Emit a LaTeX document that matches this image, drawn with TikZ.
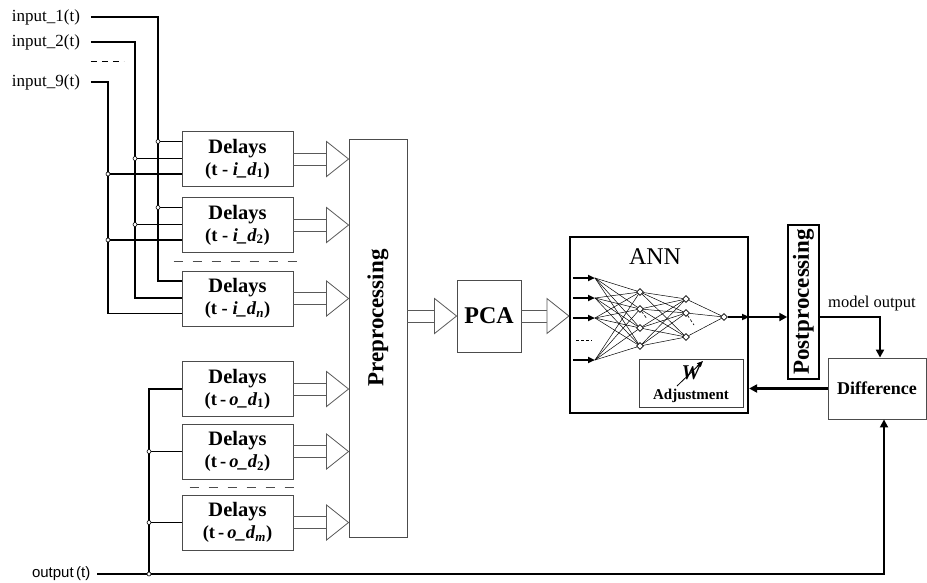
\documentclass[tikz,border=0pt]{standalone}
\usepackage{fontspec}
\setmainfont{Liberation Serif}
\setsansfont{Liberation Sans}
\usetikzlibrary{positioning, arrows.meta, shapes.geometric, calc}

% two-line bus with an open triangle at its tip
\newcommand{\busarrow}[2]{%
  \coordinate (bs) at (#1);
  \coordinate (bt) at (#2);
  \draw[busline] ([yshift=6pt]bs) -- ([xshift=-22pt,yshift=6pt]bt);
  \draw[busline] ([yshift=-6pt]bs) -- ([xshift=-22pt,yshift=-6pt]bt);
  \draw[busline, fill=white] (bt) -- ([xshift=-22pt,yshift=17.5pt]bt)
    -- ([xshift=-22pt,yshift=-17.5pt]bt) -- cycle;
}
\newcommand{\dl}{{\fontsize{20.5}{22}\selectfont Delays}}

\begin{document}
\begin{tikzpicture}[
        x=1pt, y=-1pt,
        wire/.style={line width=1.8pt},
        busline/.style={draw=black!65, line width=0.8pt},
        junction/.style={circle, draw, fill=white, line width=0.6pt,
            inner sep=0pt, minimum size=4pt},
        delaybox/.style={
            draw=black!70,
            line width=0.9pt,
            minimum width=111pt,
            minimum height=55pt,
            inner sep=0pt,
            align=center,
            font=\bfseries\fontsize{18.5}{22}\selectfont
        },
        bigbox/.style={draw=black!70, line width=0.9pt, inner sep=0pt},
        inlabel/.style={anchor=west, inner sep=0pt, outer xsep=11pt,
            font=\fontsize{17}{17}\selectfont},
        neuron/.style={diamond, draw, fill=white, line width=0.6pt,
            inner sep=0pt, minimum size=7pt},
        synapse/.style={line width=0.5pt},
        netdash/.style={line width=0.6pt, dash pattern=on 3pt off 2pt},
        netin/.style={line width=2pt, -{Triangle[length=7pt,width=6pt]}},
        bigarrow/.style={line width=2.5pt, -{Triangle[length=8pt,width=8pt]}},
        sepdash/.style={draw=black!70, line width=0.9pt, dash pattern=on 9pt off 10pt}
    ]
        \useasboundingbox (0,0) rectangle (927,582);

        % input signals
        \node[inlabel] (in1) at (1,17) {input\_1(t)};
        \node[inlabel] (in2) at (1,42) {input\_2(t)};
        \node[inlabel] (in9) at (1,82) {input\_9(t)};
        \draw[line width=0.9pt, dash pattern=on 6pt off 5pt]
            ([yshift=-19pt]in2.east) -- ++(33,0);

        \node[inlabel, font=\sffamily\fontsize{15}{15}\selectfont, outer xsep=7pt]
            (outp) at (25,574) {output\,(t)};

        % delay boxes
        \node[delaybox] (di1) at (237.5,159) {\dl\\(t - \textit{i\_d}\textsubscript{1})};
        \node[delaybox] (di2) at (237.5,225) {\dl\\(t - \textit{i\_d}\textsubscript{2})};
        \node[delaybox] (din) at (237.5,298.5) {\dl\\(t - \textit{i\_d}\textsubscript{\itshape n})};
        \node[delaybox] (do1) at (237.5,389) {\dl\\(t\,-\,\textit{o\_d}\textsubscript{1})};
        \node[delaybox] (do2) at (237.5,451.5) {\dl\\(t\,-\,\textit{o\_d}\textsubscript{2})};
        \node[delaybox] (dom) at (237.5,522.5) {\dl\\(t\,-\,\textit{o\_d}\textsubscript{\itshape m})};

        \draw[sepdash] ($(di2.south)!0.5!(din.north)$) ++(-64,0) -- ++(127,0);
        \draw[sepdash] ($(do2.south)!0.5!(dom.north)$) ++(-48,0) -- ++(108,0);

        % wiring of the inputs
        \coordinate (c1) at (158,0);
        \coordinate (c2) at (135,0);
        \coordinate (c9) at (108,0);
        \coordinate (c0) at (149,0);
        \foreach \b in {di1,di2,din} {
            \coordinate (\b-a) at ([yshift=17.5pt]\b.west);
            \coordinate (\b-b) at ([yshift=0.5pt]\b.west);
            \coordinate (\b-c) at ([yshift=-15pt]\b.west);
        }
        \draw[wire] (in1.east) -| (din-a -| c1) -- (din-a);
        \draw[wire] (in2.east) -| (din-b -| c2) -- (din-b);
        \draw[wire] (in9.east) -| (din-c -| c9) -- (din-c);
        \foreach \b in {di1,di2} {
            \draw[wire] (\b-a -| c1) -- (\b-a);
            \draw[wire] (\b-b -| c2) -- (\b-b);
            \draw[wire] (\b-c -| c9) -- (\b-c);
            \node[junction] (\b-ja) at (\b-a -| c1) {};
            \node[junction] (\b-jb) at (\b-b -| c2) {};
            \node[junction] (\b-jc) at (\b-c -| c9) {};
        }

        % wiring of the measured output
        \draw[wire] (outp.east) -| (do1.west -| c0) -- (do1.west);
        \draw[wire] (do2.west -| c0) -- (do2.west);
        \draw[wire] (dom.west -| c0) -- (dom.west);

        % processing chain
        \node[bigbox, minimum width=58pt, minimum height=398pt] (pre) at (378,338) {};
        \node[rotate=90, font=\bfseries\fontsize{23}{23}\selectfont] (prelbl)
            at (378,318) {Preprocessing};
        \node[bigbox, minimum width=64pt, minimum height=72pt,
            font=\bfseries\fontsize{24}{24}\selectfont] (pca) at (489,316) {PCA};
        \node[draw, line width=2.2pt, minimum width=178pt, minimum height=176pt,
            inner sep=0pt] (ann) at (659,325) {};
        \node[font=\fontsize{24}{24}\selectfont] (annlbl) at (655,257) {ANN};

        \foreach \b in {di1,di2,din,do1,do2,dom} {
            \busarrow{\b.east}{\b.east -| pre.west}
        }
        \busarrow{pca.west -| pre.east}{pca.west}
        \busarrow{pca.east}{pca.east -| ann.west}

        % network inside the ANN
        \foreach \n/\y in {1/278, 2/298, 3/318, 4/360}
            \coordinate (x\n) at (595,\y);
        \foreach \n/\y in {1/292, 2/309, 3/328, 4/346}
            \node[neuron] (h\n) at (640,\y) {};
        \foreach \n/\y in {1/299, 2/313, 3/337}
            \node[neuron] (g\n) at (686,\y) {};
        \node[neuron] (o) at (724,317) {};
        \foreach \i in {1,...,4}
            \foreach \j in {1,...,4}
                \draw[synapse] (x\i) -- (h\j);
        \foreach \i in {1,...,4}
            \foreach \j in {1,2,3}
                \draw[synapse] (h\i) -- (g\j);
        \foreach \j in {1,2,3}
            \draw[synapse] (g\j) -- (o);
        \foreach \i in {1,...,4}
            \draw[netin] ([xshift=4pt]ann.west |- x\i) -- (x\i);
        \draw[netdash] ([shift={(-19,-20)}]x4) -- ++(16,0);
        \draw[netdash] ([shift={(-7,10)}]h2) -- ++(14,0);
        \draw[netdash] ([shift={(-8,12)}]g2) -- ++(16,0);
        \draw[netin] (o) -- (o -| ann.east);

        % weight adjustment
        \node[draw=black!75, line width=0.9pt, minimum width=104pt, minimum height=48pt,
            inner sep=0pt] (adj) at (691,383) {};
        \node[font=\bfseries\itshape\fontsize{21}{21}\selectfont, inner sep=0pt]
            (wsym) at (691,373) {W};
        \draw[line width=0.8pt, -{Triangle[length=6pt,width=5pt]}]
            ([shift={(-14,13)}]wsym.center) -- ([shift={(12,-12)}]wsym.center);
        \node[font=\bfseries\fontsize{15}{15}\selectfont, inner sep=0pt]
            (adjlbl) at (691,396) {Adjustment};

        % output side
        \node[draw, line width=1.5pt, minimum width=31pt, minimum height=154pt,
            inner sep=0pt] (post) at (803.5,302) {};
        \node[rotate=90, font=\bfseries\fontsize{23}{23}\selectfont] (postlbl)
            at (803.5,302) {Postprocessing};
        \node[bigbox, minimum width=98pt, minimum height=61pt,
            font=\bfseries\fontsize{18}{18}\selectfont] (diff) at (877,388.5) {Difference};
        \node[font=\fontsize{16.5}{16.5}\selectfont, inner sep=0pt] (mout)
            at (872,304) {model output};

        \draw[bigarrow] (o -| ann.east) -- (o -| post.west);
        \draw[bigarrow] (o -| post.east) -| ([xshift=3pt]diff.north);
        \draw[bigarrow] (diff.west) -- (diff.west -| ann.east);
        \draw[wire, -{Triangle[length=8pt,width=8pt]}]
            (outp.east) -| ([xshift=7pt]diff.south);

        % junction points on the output bus
        \node[junction] (jo2) at (do2.west -| c0) {};
        \node[junction] (jom) at (dom.west -| c0) {};
        \node[junction] (jout) at (outp.east -| c0) {};

    \end{tikzpicture}
\end{document}
